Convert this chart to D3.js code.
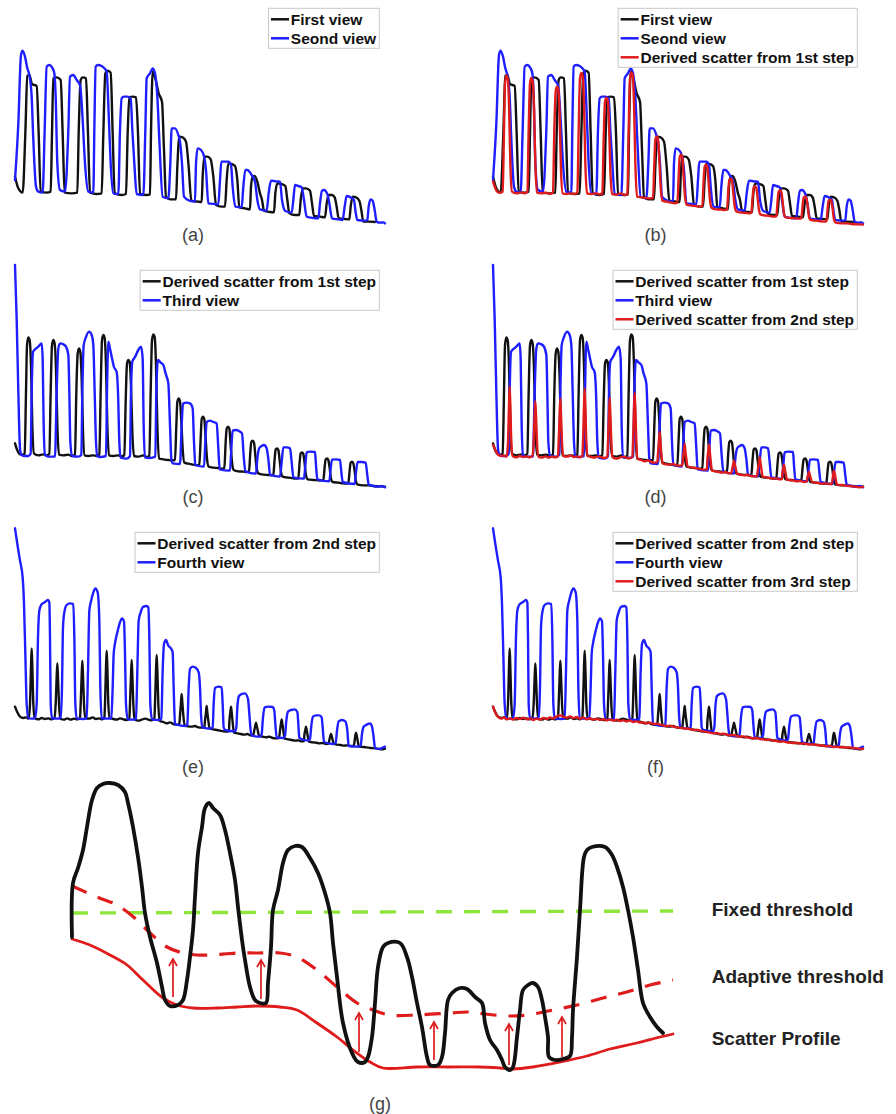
<!DOCTYPE html>
<html><head><meta charset="utf-8">
<script src="https://cdn.jsdelivr.net/npm/d3@7"></script>
<style>body{margin:0;background:#fff}</style>
</head><body>
<svg id="chart" width="896" height="1114"></svg>
<script>
// ---- Panels (a)-(f): [sample index, intensity counts] ----
const firstView = [[45,160],[55,125],[68,112],[76,290],[82,462],[88,465],[96,438],[110,432],[116,290],[122,115],[140,112],[152,115],
[156,290],[160,455],[170,458],[182,450],[188,290],[194,112],[215,110],[232,112],
[236,290],[242,450],[248,458],[258,455],[264,290],[270,112],[290,108],[305,110],
[310,290],[316,470],[322,478],[332,472],[338,290],[344,110],[365,105],[378,108],
[383,290],[388,398],[398,400],[408,398],[414,290],[420,108],[440,105],[450,107],
[453,290],[458,475],[466,455],[476,410],[486,385],[492,240],[498,100],[512,92],[528,92],
[532,190],[538,280],[548,278],[558,265],[566,190],[574,88],[595,85],[605,84],
[608,160],[613,220],[622,220],[632,212],[640,160],[648,75],[665,70],[675,70],
[680,150],[685,200],[695,198],[705,192],[712,150],[718,68],[735,65],[750,62],
[753,130],[758,160],[764,162],[772,145],[780,110],[786,90],[792,58],[810,54],[822,53],
[826,110],[832,140],[845,138],[856,132],[862,90],[868,50],[885,45],[898,45],
[902,90],[908,125],[918,125],[930,118],[936,80],[942,42],[960,40],[975,38],
[980,80],[986,105],[996,105],[1004,98],[1010,70],[1016,35],[1035,33],[1048,32],
[1052,70],[1058,100],[1068,98],[1078,88],[1084,60],[1090,25],[1110,25],[1125,24]];

const secondView = [[45,150],[55,320],[63,525],[68,538],[75,520],[82,485],[88,465],[95,400],[100,270],[108,130],[115,115],[128,112],
[134,300],[140,490],[148,495],[156,488],[163,470],[167,400],[172,200],[180,120],[195,115],
[205,300],[210,460],[220,465],[230,450],[240,435],[248,330],[255,200],[265,115],[280,112],
[283,300],[287,490],[294,495],[305,492],[313,485],[320,475],[326,350],[332,200],[340,110],[355,108],
[360,300],[365,395],[372,400],[382,400],[392,395],[397,300],[403,200],[410,108],[430,105],
[436,300],[440,455],[450,470],[458,485],[465,470],[472,400],[478,270],[488,100],[505,95],
[511,200],[515,305],[525,305],[535,285],[540,265],[546,200],[552,100],[568,88],[585,85],
[588,200],[593,245],[603,240],[612,222],[618,180],[625,80],[645,78],[655,77],
[660,150],[664,205],[685,205],[693,195],[698,130],[706,70],[725,68],
[730,130],[736,180],[742,180],[755,165],[765,145],[772,90],[780,62],[800,58],
[806,110],[813,148],[828,146],[840,145],[846,90],[856,57],[875,52],
[880,90],[885,135],[895,132],[905,128],[912,90],[920,40],[940,36],[955,35],
[960,80],[966,118],[972,120],[982,108],[988,80],[996,35],[1015,32],[1028,30],
[1034,70],[1040,102],[1055,96],[1062,90],[1066,60],[1072,30],[1095,28],[1102,30],
[1106,70],[1112,92],[1118,88],[1124,60],[1130,25],[1140,22],[1150,23],[1155,20]];

const scatter1 = [[45,146],[52,125],[60,113],[68,112],
[74,115],[78,300],[81,440],[85,464],[89,455],[93,380],[97,200],[102,115],[115,110],[130,113],[140,110],
[148,115],[152,300],[156,440],[160,456],[164,445],[168,370],[172,200],[177,112],[190,110],[205,112],[215,108],
[225,112],[229,300],[233,415],[237,431],[241,420],[245,340],[249,180],[254,110],[265,108],[280,110],[290,108],
[298,112],[302,300],[306,455],[310,471],[314,462],[318,380],[322,200],[327,110],[340,108],[355,110],[365,107],
[373,110],[377,270],[381,385],[385,396],[389,390],[393,320],[397,180],[402,108],[415,106],[430,110],[440,105],
[448,108],[452,300],[456,455],[460,473],[464,465],[468,380],[472,200],[477,100],[490,98],[505,96],[515,95],
[525,96],[529,200],[532,270],[536,281],[540,272],[544,210],[548,130],[553,88],[565,85],[580,82],[590,80],
[598,82],[602,160],[605,218],[609,226],[613,218],[617,160],[621,100],[626,76],[640,73],[655,72],[665,70],
[673,72],[677,150],[680,190],[684,196],[688,190],[692,140],[696,90],[701,66],[715,62],[730,61],[740,60],
[747,62],[751,120],[754,150],[758,154],[762,148],[766,110],[770,72],[775,56],[790,52],[805,51],[815,50],
[820,52],[824,100],[827,128],[831,131],[835,126],[839,95],[843,60],[848,46],[865,43],[880,41],[890,40],
[895,42],[899,90],[902,116],[906,119],[910,114],[914,85],[918,50],[923,38],[940,36],[955,35],[965,34],
[970,36],[974,75],[977,98],[981,101],[985,96],[989,72],[993,40],[998,30],[1015,28],[1030,26],[1040,25],
[1045,27],[1049,65],[1052,88],[1056,91],[1060,86],[1064,62],[1068,32],[1073,22],[1090,20],[1105,20],[1120,18],[1140,17],[1155,16]];

const thirdView = [[45,681],[50,520],[55,300],[60,130],[64,112],[72,108],[85,108],[92,115],[95,300],[99,420],[105,428],[115,436],[125,446],[128,400],[131,200],[135,112],[145,106],[165,106],
[170,300],[175,430],[180,446],[190,443],[198,436],[205,411],[208,300],[211,150],[216,108],[235,106],[244,112],
[247,300],[251,440],[258,465],[267,481],[275,471],[280,440],[284,300],[288,150],[292,108],[300,105],[318,108],
[321,300],[325,451],[330,430],[335,406],[342,375],[350,360],[354,300],[358,150],[362,103],[380,100],[390,108],
[393,300],[397,391],[405,405],[415,426],[423,436],[428,400],[431,200],[435,103],[450,102],[466,106],
[469,300],[474,396],[482,388],[490,381],[497,355],[505,326],[510,200],[514,100],[518,86],[540,84],
[545,200],[549,265],[560,268],[570,266],[578,251],[582,150],[586,81],[612,76],
[616,150],[620,210],[630,214],[640,210],[650,206],[655,130],[659,68],[690,64],
[694,130],[698,184],[708,186],[718,182],[726,176],[731,110],[736,62],[768,55],
[772,100],[777,130],[785,138],[792,141],[800,131],[806,90],[810,52],[840,46],
[845,90],[850,134],[860,134],[870,131],[875,90],[880,44],[912,40],
[916,80],[920,119],[930,121],[945,120],[948,80],[952,38],[988,32],
[992,70],[996,97],[1008,98],[1020,96],[1024,60],[1028,30],[1064,24],
[1068,60],[1073,90],[1085,90],[1097,88],[1102,50],[1106,22],[1120,18],[1135,16],[1145,18],[1155,14]];

const scatter2 = [[45,142],[52,125],[60,112],[70,108],[78,110],[86,106],
[90,150],[93,260],[95,317],[97,260],[100,150],[104,108],[115,104],[125,108],[135,105],[145,107],[155,104],[163,108],
[167,150],[170,230],[172,272],[174,230],[177,150],[181,106],[192,103],[202,107],[212,103],[222,106],[232,104],[240,107],
[242,150],[245,235],[247,280],[249,235],[252,150],[256,108],[268,106],[278,110],[288,105],[298,107],[306,104],[313,108],
[315,150],[318,260],[320,310],[322,260],[325,150],[329,108],[340,105],[350,103],[360,107],[370,104],[380,102],[388,106],
[390,150],[393,235],[395,282],[397,235],[400,150],[404,104],[415,100],[425,103],[435,106],[445,103],[455,101],[463,105],
[465,150],[468,250],[470,297],[472,250],[475,150],[479,100],[490,96],[500,92],[510,95],[520,90],[530,88],[538,90],
[540,115],[543,155],[545,180],[547,155],[550,115],[554,86],[565,83],[575,82],[585,84],[595,80],[605,79],[613,80],
[615,100],[618,125],[620,144],[622,125],[625,100],[629,76],[640,74],[650,72],[660,70],[670,68],[680,67],[687,68],
[688,95],[691,125],[693,142],[695,125],[698,95],[702,64],[712,62],[722,60],[732,58],[742,60],[752,56],[760,57],
[763,72],[766,85],[768,94],[770,85],[773,72],[777,55],[788,52],[798,50],[808,52],[818,48],[828,47],[837,48],
[840,70],[843,92],[845,104],[847,92],[850,70],[854,46],[865,44],[875,42],[885,40],[895,41],[905,38],[912,39],
[913,55],[916,72],[918,82],[920,72],[923,55],[927,37],[938,35],[948,34],[958,32],[968,33],[978,30],[986,31],
[988,42],[991,54],[993,60],[995,54],[998,42],[1002,30],[1012,28],[1022,27],[1032,25],[1042,26],[1052,24],[1061,24],
[1064,40],[1066,56],[1068,64],[1070,56],[1073,40],[1077,22],[1090,21],[1100,20],[1112,18],[1125,17],[1138,15],[1148,14],[1155,16]];

const fourthView = [[45,677],[52,630],[60,580],[68,530],[72,450],[76,300],[80,150],[85,108],[95,106],[105,107],
[110,150],[114,350],[118,430],[124,448],[134,455],[144,462],[148,455],[150,350],[152,150],[156,108],[170,106],[182,108],
[186,200],[189,380],[193,425],[200,447],[210,452],[220,450],[223,350],[226,150],[230,107],[250,105],[260,107],
[264,250],[268,430],[274,462],[280,485],[286,497],[293,485],[298,400],[301,200],[305,108],[320,106],[334,108],
[338,200],[341,300],[345,332],[352,365],[360,395],[366,407],[372,398],[375,300],[378,150],[383,104],[400,103],[408,106],
[412,250],[416,400],[422,425],[430,442],[440,444],[445,440],[448,350],[451,150],[456,104],[475,102],[484,106],
[488,250],[492,330],[498,342],[505,325],[512,318],[518,305],[521,200],[525,90],[530,88],[555,84],[562,88],
[566,200],[570,255],[578,262],[588,258],[596,245],[600,200],[603,120],[607,80],[632,76],[638,80],
[641,150],[645,198],[655,202],[665,200],[668,150],[671,80],[675,72],[705,68],[709,80],
[712,140],[717,174],[725,180],[735,182],[744,165],[748,120],[752,70],[756,55],[780,52],[785,60],
[789,110],[794,140],[805,142],[818,141],[823,130],[826,90],[830,50],[850,48],[855,55],
[859,100],[864,127],[874,132],[884,134],[892,126],[895,90],[898,48],[925,40],[930,45],
[934,85],[939,112],[948,116],[958,116],[965,110],[968,80],[972,36],[1000,30],[1007,34],
[1011,70],[1016,98],[1026,102],[1036,98],[1042,70],[1046,24],[1075,22],[1082,25],
[1086,60],[1091,82],[1100,88],[1110,92],[1116,82],[1121,50],[1125,18],[1140,15],[1150,20],[1155,22]];

const scatter3 = [[45,142],[50,128],[56,116],[62,110],[70,106],[78,110],[86,104],[96,107],[106,103],[116,108],[126,105],[136,109],[146,104],[156,107],[166,102],[176,106],[186,103],[196,108],[206,105],[216,110],[226,107],[236,113],[246,116],[256,112],[266,109],[276,113],[286,108],[296,111],[306,106],[316,109],[326,104],[336,107],[346,103],[356,106],[366,102],[376,105],[386,101],[396,104],[406,100],[416,103],[426,99],[436,101],[446,98],[456,101],[466,96],[476,98],[486,94],[496,95],[506,92],[516,94],[526,90],[536,91],[546,88],[556,86],[566,84],[576,85],[586,82],[596,80],[606,79],[616,77],[626,76],[636,75],[646,72],[656,73],[666,70],[676,68],[686,66],[696,64],[706,62],[716,63],[726,60],[736,61],[746,58],[756,56],[766,57],[776,54],[786,52],[796,53],[806,50],[816,49],[826,47],[836,48],[846,45],[856,44],[866,42],[876,43],[886,40],[896,39],[906,37],[916,38],[926,35],[936,34],[946,33],[956,34],[966,31],[976,32],[986,30],[996,28],[1006,29],[1016,27],[1026,26],[1036,25],[1046,23],[1056,24],[1066,21],[1076,22],[1086,20],[1096,21],[1106,19],[1116,20],[1126,18],[1136,17],[1146,15],[1155,16]];

const panelLabels = ["(a)","(b)","(c)","(d)","(e)","(f)"];

// ---- Panel (g): [position, amplitude] ----
const gProfile = [[72,163],[73,217],[78,232],[83,250],[87,273],[92,300],[97,312],[103,316],[110,317],[118,315],[125,308],[128,297],[133,273],[138,243],[142,213],[145,187],[150,163],[157,137],[162,113],[165,100],[170,94],[178,95],[183,100],[187,120],[190,143],[193,170],[195,203],[198,247],[202,273],[205,292],[209,297],[213,292],[220,285],[225,270],[230,247],[235,220],[238,193],[242,160],[245,140],[250,113],[255,100],[260,97],[266,97],[268,117],[271,153],[273,190],[278,210],[283,237],[288,250],[295,254],[302,253],[310,242],[318,227],[325,207],[330,187],[333,157],[337,123],[343,77],[352,47],[358,38],[365,38],[368,43],[372,63],[375,97],[378,133],[383,153],[388,157],[400,157],[407,143],[412,123],[417,97],[422,73],[427,43],[430,35],[438,35],[442,43],[445,67],[448,100],[452,107],[460,112],[467,111],[475,103],[482,97],[485,77],[490,60],[497,50],[502,40],[505,33],[510,30],[513,33],[517,63],[520,90],[523,110],[528,115],[533,117],[538,113],[542,100],[545,83],[548,63],[549,43],[555,40],[563,41],[570,44],[572,63],[573,90],[577,143],[580,190],[584,243],[587,250],[592,253],[605,253],[612,245],[617,233],[623,213],[628,190],[633,163],[638,130],[643,97],[650,83],[657,73],[663,67]];
const gFixed = [[72,187],[673,189]];
const gAdaptive = [[72,214],[97,203],[117,195],[137,180],[150,167],[167,153],[183,147],[197,145],[210,145],[237,147],[257,147],[280,147],[297,143],[317,130],[337,113],[357,97],[373,90],[390,85],[417,85],[450,87],[468,88],[485,86],[508,84],[527,85],[553,90],[577,95],[603,102],[627,108],[650,115],[673,120]];
const gScatter = [[72,161],[90,155],[110,145],[127,135],[143,120],[163,102],[177,95],[193,92],[217,92],[237,93],[257,94],[280,93],[297,90],[317,77],[337,63],[353,50],[370,38],[383,32],[417,33],[450,33],[480,33],[500,32],[513,31],[533,33],[560,38],[587,44],[610,51],[637,57],[660,63],[673,66]];
const gArrowX = [173, 261, 359, 434, 509, 562];
const gArrowFrom = [103, 101, 48, 40, 35, 43];
const gArrowTo = [141, 140, 87, 78, 76, 83];
const gLabels = ["Fixed threshold", "Adaptive threshold", "Scatter Profile"];
const gLabelAmp = [191, 124, 62];

// ---- styles ----
const BLACK = "#111111", BLUE = "#1e1eff", RED = "#e01b1b", GREEN = "#8ee63c";
const FONT = "'Liberation Sans', Arial, Helvetica, sans-serif";

const panels = [
  {row:0, col:0, series:[["First view", firstView, BLACK], ["Seond view", secondView, BLUE]]},
  {row:0, col:1, series:[["First view", firstView, BLACK], ["Seond view", secondView, BLUE], ["Derived scatter from 1st step", scatter1, RED]]},
  {row:1, col:0, series:[["Derived scatter from 1st step", scatter1, BLACK], ["Third view", thirdView, BLUE]]},
  {row:1, col:1, series:[["Derived scatter from 1st step", scatter1, BLACK], ["Third view", thirdView, BLUE], ["Derived scatter from 2nd step", scatter2, RED]]},
  {row:2, col:0, series:[["Derived scatter from 2nd step", scatter2, BLACK], ["Fourth view", fourthView, BLUE]]},
  {row:2, col:1, series:[["Derived scatter from 2nd step", scatter2, BLACK], ["Fourth view", fourthView, BLUE], ["Derived scatter from 3rd step", scatter3, RED]]}
];

const svg = d3.select("#chart");
const colX = [0, 478];
const rowStep = 262;
const labelX = [193, 655.5];
const labelY = [235, 497, 767];
const legendRight = [379.3, 857.3];

panels.forEach((p, i) => {
  const x = d3.scaleLinear().domain([0, 1200]).range([colX[p.col], colX[p.col] + 400]);
  const y = d3.scaleLinear().domain([0, 690]).range([230 + rowStep * p.row, rowStep * p.row]);
  const line = d3.line().x(d => x(d[0])).y(d => y(d[1])).curve(d3.curveMonotoneX);
  const g = svg.append("g");
  p.series.forEach(s => {
    g.append("path").attr("d", line(s[1])).attr("fill", "none")
      .attr("stroke", s[2]).attr("stroke-width", 2.4)
      .attr("stroke-linejoin", "round").attr("stroke-linecap", "round");
  });
  // legend
  const top = 8.3 + rowStep * p.row;
  const lg = svg.append("g");
  const box = lg.append("rect");
  const texts = p.series.map((s, k) => lg.append("text")
      .attr("y", top + 11 + 19 * k).attr("dy", "0.35em")
      .attr("font-family", FONT).attr("font-weight", "bold").attr("font-size", "15.5px")
      .attr("fill", "#111").text(s[0]));
  const maxW = d3.max(texts, t => t.node().getComputedTextLength());
  const left = legendRight[p.col] - maxW - 25.5;
  texts.forEach(t => t.attr("x", left + 22.3));
  p.series.forEach((s, k) => {
    lg.append("line").attr("x1", left + 2.5).attr("x2", left + 20.5)
      .attr("y1", top + 11 + 19 * k).attr("y2", top + 11 + 19 * k)
      .attr("stroke", s[2]).attr("stroke-width", 2.5);
  });
  box.attr("x", left).attr("y", top).attr("width", legendRight[p.col] - left)
    .attr("height", 19 * p.series.length + 2)
    .attr("fill", "#fff").attr("stroke", "#c8c8c8").attr("stroke-width", 1);
  svg.append("text").attr("x", labelX[p.col]).attr("y", labelY[p.row]).attr("dy", "0.35em")
    .attr("text-anchor", "middle").attr("font-family", FONT).attr("font-size", "18px")
    .attr("fill", "#444").text(panelLabels[i]);
});

// ---- panel (g) ----
const gx = d3.scaleLinear().domain([0, 896]).range([0, 896]);
const gy = d3.scaleLinear().domain([0, 1100]).range([1100, 0]);
const gline = d3.line().x(d => gx(d[0])).y(d => gy(d[1]));
const G = svg.append("g");
G.append("path").attr("d", gline.curve(d3.curveLinear)(gFixed)).attr("fill", "none")
  .attr("stroke", GREEN).attr("stroke-width", 3.4).attr("stroke-dasharray", "16,12");
G.append("path").attr("d", gline.curve(d3.curveCatmullRom)(gAdaptive)).attr("fill", "none")
  .attr("stroke", RED).attr("stroke-width", 3.2).attr("stroke-dasharray", "16,12");
G.append("path").attr("d", gline.curve(d3.curveCatmullRom)(gScatter)).attr("fill", "none")
  .attr("stroke", RED).attr("stroke-width", 2.8).attr("stroke-linecap", "round");
G.append("path").attr("d", gline.curve(d3.curveCatmullRom)(gProfile)).attr("fill", "none")
  .attr("stroke", BLACK).attr("stroke-width", 3.8).attr("stroke-linejoin", "round").attr("stroke-linecap", "round");
gArrowX.forEach((ax, k) => {
  const X = gx(ax), y0 = gy(gArrowFrom[k]), y1 = gy(gArrowTo[k]);
  G.append("line").attr("x1", X).attr("x2", X).attr("y1", y0).attr("y2", y1)
    .attr("stroke", RED).attr("stroke-width", 1.7);
  G.append("path").attr("d", `M${X - 4},${y1 + 7}L${X},${y1}L${X + 4},${y1 + 7}`)
    .attr("fill", "none").attr("stroke", RED).attr("stroke-width", 1.7);
});
gLabels.forEach((t, k) => {
  G.append("text").attr("x", 711.7).attr("y", gy(gLabelAmp[k])).attr("dy", "0.35em")
    .attr("font-family", FONT).attr("font-weight", "bold").attr("font-size", "19px")
    .attr("fill", "#222").text(t);
});
svg.append("text").attr("x", 380).attr("y", 1104).attr("dy", "0.35em")
  .attr("text-anchor", "middle").attr("font-family", FONT).attr("font-size", "18px")
  .attr("fill", "#444").text("(g)");
</script>
</body></html>
